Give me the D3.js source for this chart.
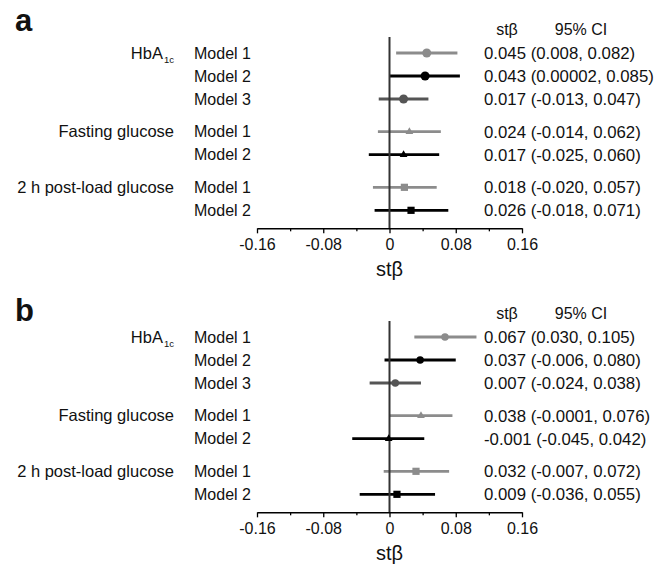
<!DOCTYPE html>
<html>
<head>
<meta charset="utf-8">
<script src="https://cdn.jsdelivr.net/npm/d3@7"></script>
<style>
  body { margin: 0; background: #fff; }
  text { font-family: "Liberation Sans", Arial, sans-serif; fill: #111; }
</style>
</head>
<body>
<div id="chart"></div>
<script>
// categorias
var groups = ["HbA1c", "Fasting glucose", "2 h post-load glucose"];
var groupModels = [["Model 1", "Model 2", "Model 3"], ["Model 1", "Model 2"], ["Model 1", "Model 2"]];

// panel a
var betaA = [0.045, 0.043, 0.017, 0.024, 0.017, 0.018, 0.026];
var lowA  = [0.008, 0.00002, -0.013, -0.014, -0.025, -0.020, -0.018];
var highA = [0.082, 0.085, 0.047, 0.062, 0.060, 0.057, 0.071];

// panel b
var betaB = [0.067, 0.037, 0.007, 0.038, -0.001, 0.032, 0.009];
var lowB  = [0.030, -0.006, -0.024, -0.0001, -0.045, -0.007, -0.036];
var highB = [0.105, 0.080, 0.038, 0.076, 0.042, 0.072, 0.055];

var majorTicks = [-0.16, -0.08, 0, 0.08, 0.16];
var minorTicks = [-0.12, -0.04, 0.04, 0.12];

var W = 659, H = 564;
var svg = d3.select("#chart").append("svg").attr("width", W).attr("height", H);

var x = d3.scaleLinear().domain([-0.16, 0.16]).range([257, 522]);

// filas con su hueco entre grupos
var rows = [];
groups.forEach(function(g, gi) {
  groupModels[gi].forEach(function(m, mi) {
    rows.push({group: g, gi: gi, model: m, first: mi === 0, slot: rows.length + gi * 0.42});
  });
});

var color = d3.scaleOrdinal().domain(["Model 1", "Model 2", "Model 3"]).range(["#8c8c8c", "#000000", "#555555"]);
var shape = d3.scaleOrdinal().domain(groups).range([d3.symbolCircle, d3.symbolTriangle, d3.symbolSquare]);

function fmt(v) {
  var s = d3.format(".3f")(v).replace("\u2212", "-");
  return +s === v ? s : String(v);
}

var panels = [
  {letter: "a", top: 0, letterY: 31, beta: betaA, low: lowA, high: highA, circle: 64},
  {letter: "b", top: 284, letterY: 37, beta: betaB, low: lowB, high: highB, circle: 44}
];

panels.forEach(function(p) {
  var g = svg.append("g").attr("transform", "translate(0," + p.top + ")");
  var y = d3.scaleLinear().domain([0, 1]).range([53, 76]);
  var data = rows.map(function(r, i) {
    return {r: r, beta: p.beta[i], low: p.low[i], high: p.high[i]};
  });
  var yLast = y(rows[rows.length - 1].slot);
  var axisY = yLast + 18;

  // letra del panel
  g.append("text").attr("x", 15).attr("y", p.letterY)
    .style("font-size", "31px").style("font-weight", "bold").text(p.letter);

  // cabecera
  g.append("text").attr("x", 507).attr("y", y(0) - 18).attr("text-anchor", "middle")
    .style("font-size", "16px").text("st\u03b2");
  g.append("text").attr("x", 581).attr("y", y(0) - 18).attr("text-anchor", "middle")
    .style("font-size", "16px").text("95% CI");

  // etiquetas de grupo
  data.filter(function(d) { return d.r.first; }).forEach(function(d) {
    var t = g.append("text").attr("x", 174).attr("y", y(d.r.slot)).attr("dy", "0.35em")
      .attr("text-anchor", "end").style("font-size", "16.5px");
    if (d.r.group === "HbA1c") {
      t.append("tspan").text("HbA");
      t.append("tspan").attr("dx", 1).attr("dy", "0.45em").style("font-size", "9.5px").text("1c");
    } else {
      t.text(d.r.group);
    }
  });

  // etiquetas de modelo
  g.selectAll(".model").data(data).enter().append("text")
    .attr("x", 194).attr("y", function(d) { return y(d.r.slot); }).attr("dy", "0.35em")
    .style("font-size", "16px").text(function(d) { return d.r.model; });

  // valores
  g.selectAll(".val").data(data).enter().append("text")
    .attr("x", 484).attr("y", function(d) { return y(d.r.slot); }).attr("dy", "0.35em")
    .style("font-size", "16.8px")
    .text(function(d) { return fmt(d.beta) + " (" + fmt(d.low) + ", " + fmt(d.high) + ")"; });

  // intervalos
  g.selectAll(".ci").data(data).enter().append("line")
    .attr("x1", function(d) { return x(d.low); })
    .attr("x2", function(d) { return x(d.high); })
    .attr("y1", function(d) { return y(d.r.slot); })
    .attr("y2", function(d) { return y(d.r.slot); })
    .attr("stroke", function(d) { return color(d.r.model); })
    .attr("stroke-width", 2.8);

  // linea del cero
  g.append("line").attr("x1", x(0)).attr("x2", x(0))
    .attr("y1", y(0) - 16).attr("y2", axisY)
    .attr("stroke", "#333").attr("stroke-width", 2);

  // puntos
  g.selectAll(".pt").data(data).enter().append("path")
    .attr("transform", function(d) { return "translate(" + x(d.beta) + "," + y(d.r.slot) + ")"; })
    .attr("d", function(d) {
      var s = d.r.gi === 0 ? p.circle : (d.r.gi === 1 ? 26 : 52);
      return d3.symbol().type(shape(d.r.group)).size(s)();
    })
    .attr("fill", function(d) { return color(d.r.model); });

  // eje x
  var ax = g.append("g").attr("transform", "translate(0," + axisY + ")")
    .call(d3.axisBottom(x).tickValues(majorTicks).tickSize(5).tickSizeOuter(0).tickPadding(5)
      .tickFormat(function(d) { return String(d); }));
  ax.select(".domain").attr("stroke", "#000").attr("stroke-width", 1.6);
  ax.selectAll(".tick line").attr("stroke", "#000").attr("stroke-width", 1.3);
  ax.selectAll(".tick text").style("font-size", "16px").style("font-family", "'Liberation Sans', Arial, sans-serif").attr("fill", "#111");

  var mx = g.append("g").attr("transform", "translate(0," + axisY + ")")
    .call(d3.axisBottom(x).tickValues(minorTicks).tickSize(3).tickFormat(""));
  mx.select(".domain").remove();
  mx.selectAll(".tick line").attr("stroke", "#000").attr("stroke-width", 1.3);

  // titulo del eje
  g.append("text").attr("x", x(0)).attr("y", axisY + 48).attr("text-anchor", "middle")
    .style("font-size", "20px").text("st\u03b2");
});
</script>
</body>
</html>
